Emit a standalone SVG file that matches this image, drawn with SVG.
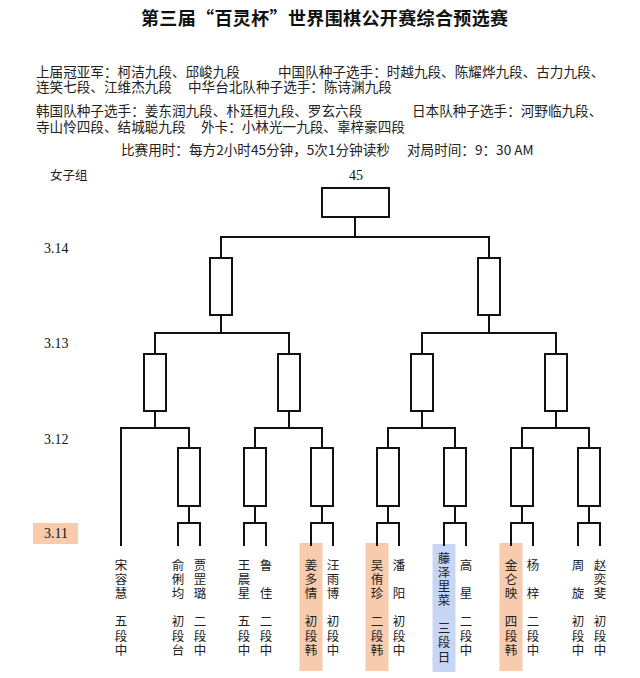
<svg xmlns="http://www.w3.org/2000/svg" width="640" height="678" viewBox="0 0 640 678">
<style>
.cjk{font-family:"Noto Sans CJK SC","Liberation Sans",sans-serif;fill:#222;}
.hdr{font-size:13.6px;}
.title{font-size:18px;font-weight:bold;fill:#111;}
.num{font-family:"Liberation Serif","Noto Sans CJK SC",serif;font-size:14px;fill:#111;}
.nm{font-family:"Noto Sans CJK SC",sans-serif;font-size:12.5px;fill:#222;text-anchor:middle;}
.ln{stroke:#111;stroke-width:2;fill:none;stroke-linecap:square;}
.box{stroke:#111;stroke-width:2;fill:#fff;}
.hlo{fill:#F8CBAD;}
.hlb{fill:#C8D6F6;}
</style>
<rect width="640" height="678" fill="#fff"/>
<text class="cjk title" x="141" y="25" textLength="367" lengthAdjust="spacing">第三届“百灵杯”世界围棋公开赛综合预选赛</text>
<g class="cjk hdr">
<text x="36" y="77">上届冠亚军：柯洁九段、邱峻九段</text>
<text x="278" y="77">中国队种子选手：时越九段、陈耀烨九段、古力九段、</text>
<text x="36" y="92">连笑七段、江维杰九段</text>
<text x="188" y="92">中华台北队种子选手：陈诗渊九段</text>
<text x="36" y="116">韩国队种子选手：姜东润九段、朴廷桓九段、罗玄六段</text>
<text x="412" y="116">日本队种子选手：河野临九段、</text>
<text x="36" y="132">寺山怜四段、结城聪九段</text>
<text x="201" y="132">外卡：小林光一九段、辜梓豪四段</text>
<text x="121" y="155">比赛用时：每方2小时45分钟，5次1分钟读秒</text>
<text x="407" y="155">对局时间：9：30 AM</text>
</g>
<g id="labels">
<text class="cjk" x="50" y="180" font-size="12.5">女子组</text>
<text class="num" x="44" y="253">3.14</text>
<text class="num" x="44" y="348">3.13</text>
<text class="num" x="44" y="444">3.12</text>
<rect x="33" y="523" width="45" height="21" fill="#F8CBAD"/>
<text class="num" x="44" y="538">3.11</text>
</g>
<g id="highlights">
<rect class="hlo" x="299.5" y="543" width="23" height="128"/>
<rect class="hlo" x="365.5" y="543" width="23" height="128"/>
<rect class="hlb" x="432.5" y="544" width="23" height="128"/>
<rect class="hlo" x="499.5" y="543" width="23" height="128"/>
</g>
<g id="connectors" class="ln">
<path d="M355 217V237M221 237H489"/>
<path d="M221 237V258M489 237V258"/>
<path d="M221 315V333M489 315V333M155 333H289M422 333H556"/>
<path d="M155 333V354M289 333V354M422 333V354M556 333V354"/>
<path d="M155 411V428M289 411V428M422 411V428M556 411V428"/>
<path d="M121 428H189M255 428H322M388 428H455M522 428H589"/>
<path d="M121 428V545"/>
<path d="M189 428V448M255 428V448M322 428V448M388 428V448M455 428V448M522 428V448M589 428V448"/>
<path d="M189 506V523M255 506V523M322 506V523M388 506V523M455 506V523M522 506V523M589 506V523"/>
<path d="M178 523H200M244 523H266M311 523H333M377 523H399M444 523H466M511 523H533M578 523H600"/>
<path d="M178 523V545M200 523V545M244 523V545M266 523V545M311 523V545M333 523V545M377 523V545M399 523V545M444 523V545M466 523V545M511 523V545M533 523V545M578 523V545M600 523V545"/>
</g>
<g id="final">
<text class="num" x="356" y="180" text-anchor="middle" font-size="13">45</text>
<rect class="box" x="322" y="188" width="67" height="29"/>
</g>
<g id="sf-left"><rect class="box" x="210" y="258" width="22" height="57"/></g>
<g id="sf-right"><rect class="box" x="478" y="258" width="22" height="57"/></g>
<g id="qf-1"><rect class="box" x="144" y="354" width="22" height="57"/></g>
<g id="qf-2"><rect class="box" x="278" y="354" width="22" height="57"/></g>
<g id="qf-3"><rect class="box" x="411" y="354" width="22" height="57"/></g>
<g id="qf-4"><rect class="box" x="545" y="354" width="22" height="57"/></g>
<g id="r2-1"><rect class="box" x="178" y="448" width="22" height="58"/></g>
<g id="r2-2"><rect class="box" x="244" y="448" width="22" height="58"/></g>
<g id="r2-3"><rect class="box" x="311" y="448" width="22" height="58"/></g>
<g id="r2-4"><rect class="box" x="377" y="448" width="22" height="58"/></g>
<g id="r2-5"><rect class="box" x="444" y="448" width="22" height="58"/></g>
<g id="r2-6"><rect class="box" x="511" y="448" width="22" height="58"/></g>
<g id="r2-7"><rect class="box" x="578" y="448" width="22" height="58"/></g>
<g id="players" class="nm">
<g id="p-song"><text><tspan x="121" y="570">宋</tspan><tspan x="121" y="584">容</tspan><tspan x="121" y="598">慧</tspan><tspan x="121" y="626">五</tspan><tspan x="121" y="641">段</tspan><tspan x="121" y="655">中</tspan></text></g>
<g id="p-yu"><text><tspan x="178" y="570">俞</tspan><tspan x="178" y="584">俐</tspan><tspan x="178" y="598">均</tspan><tspan x="178" y="626">初</tspan><tspan x="178" y="641">段</tspan><tspan x="178" y="655">台</tspan></text></g>
<g id="p-jia"><text><tspan x="200" y="570">贾</tspan><tspan x="200" y="584">罡</tspan><tspan x="200" y="598">璐</tspan><tspan x="200" y="626">二</tspan><tspan x="200" y="641">段</tspan><tspan x="200" y="655">中</tspan></text></g>
<g id="p-wang"><text><tspan x="244" y="570">王</tspan><tspan x="244" y="584">晨</tspan><tspan x="244" y="598">星</tspan><tspan x="244" y="626">五</tspan><tspan x="244" y="641">段</tspan><tspan x="244" y="655">中</tspan></text></g>
<g id="p-lu"><text><tspan x="266" y="570">鲁</tspan><tspan x="266" y="598">佳</tspan><tspan x="266" y="626">二</tspan><tspan x="266" y="641">段</tspan><tspan x="266" y="655">中</tspan></text></g>
<g id="p-jiang"><text><tspan x="311" y="570">姜</tspan><tspan x="311" y="584">多</tspan><tspan x="311" y="598">情</tspan><tspan x="311" y="626">初</tspan><tspan x="311" y="641">段</tspan><tspan x="311" y="655">韩</tspan></text></g>
<g id="p-wangyb"><text><tspan x="333" y="570">汪</tspan><tspan x="333" y="584">雨</tspan><tspan x="333" y="598">博</tspan><tspan x="333" y="626">初</tspan><tspan x="333" y="641">段</tspan><tspan x="333" y="655">中</tspan></text></g>
<g id="p-wu"><text><tspan x="377" y="570">吴</tspan><tspan x="377" y="584">侑</tspan><tspan x="377" y="598">珍</tspan><tspan x="377" y="626">二</tspan><tspan x="377" y="641">段</tspan><tspan x="377" y="655">韩</tspan></text></g>
<g id="p-pan"><text><tspan x="399" y="570">潘</tspan><tspan x="399" y="598">阳</tspan><tspan x="399" y="626">初</tspan><tspan x="399" y="641">段</tspan><tspan x="399" y="655">中</tspan></text></g>
<g id="p-fujisawa"><text><tspan x="444" y="563">藤</tspan><tspan x="444" y="577">泽</tspan><tspan x="444" y="591">里</tspan><tspan x="444" y="605">菜</tspan><tspan x="444" y="633">三</tspan><tspan x="444" y="647">段</tspan><tspan x="444" y="662">日</tspan></text></g>
<g id="p-gao"><text><tspan x="466" y="570">高</tspan><tspan x="466" y="598">星</tspan><tspan x="466" y="626">二</tspan><tspan x="466" y="641">段</tspan><tspan x="466" y="655">中</tspan></text></g>
<g id="p-kim"><text><tspan x="511" y="570">金</tspan><tspan x="511" y="584">仑</tspan><tspan x="511" y="598">映</tspan><tspan x="511" y="626">四</tspan><tspan x="511" y="641">段</tspan><tspan x="511" y="655">韩</tspan></text></g>
<g id="p-yang"><text><tspan x="533" y="570">杨</tspan><tspan x="533" y="598">梓</tspan><tspan x="533" y="626">二</tspan><tspan x="533" y="641">段</tspan><tspan x="533" y="655">中</tspan></text></g>
<g id="p-zhou"><text><tspan x="578" y="570">周</tspan><tspan x="578" y="598">旋</tspan><tspan x="578" y="626">初</tspan><tspan x="578" y="641">段</tspan><tspan x="578" y="655">中</tspan></text></g>
<g id="p-zhao"><text><tspan x="600" y="570">赵</tspan><tspan x="600" y="584">奕</tspan><tspan x="600" y="598">斐</tspan><tspan x="600" y="626">初</tspan><tspan x="600" y="641">段</tspan><tspan x="600" y="655">中</tspan></text></g>
</g>
</svg>
